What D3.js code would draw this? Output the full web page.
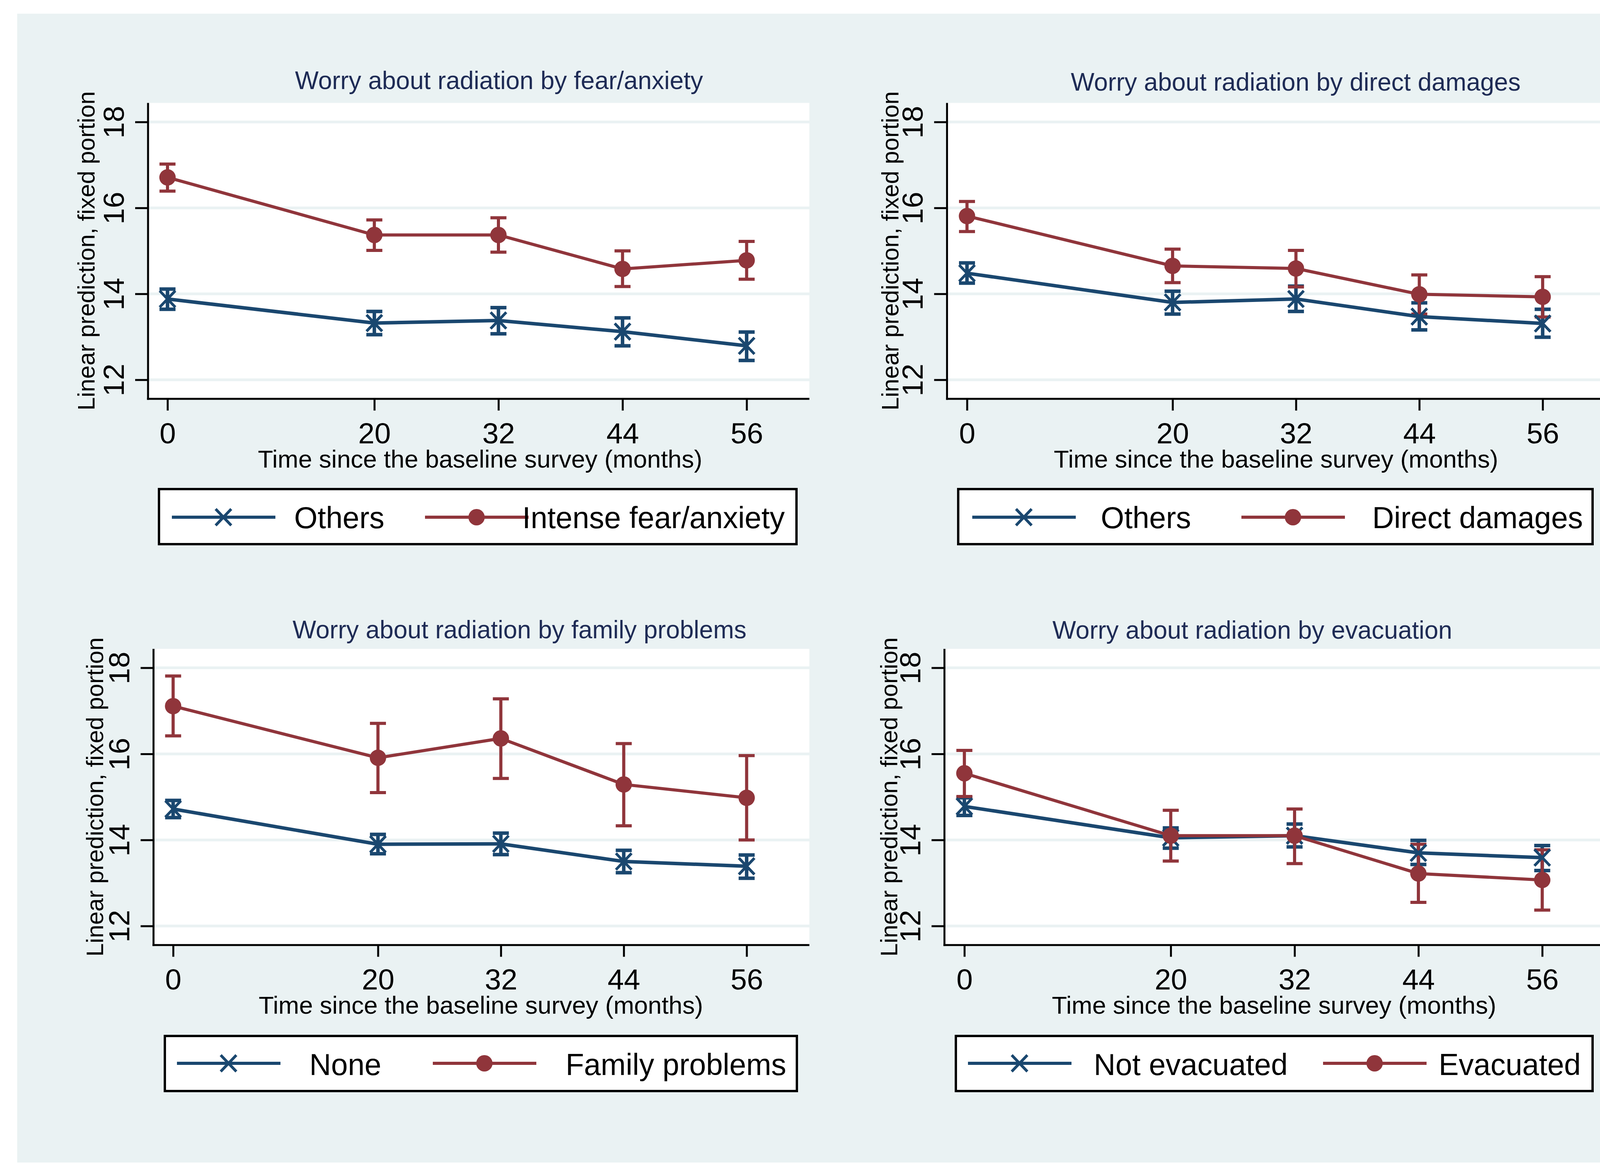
<!DOCTYPE html>
<meta charset="utf-8">
<style>
    body { margin: 0; background: #fff; }
    text { font-family: "Liberation Sans", Arial, sans-serif; }
</style>
<script src="https://d3js.org/d3.v7.min.js"></script>

<div id="chart"></div>

<script>
// months since baseline and y ticks shared by every panel
var months = [0, 20, 32, 44, 56];
var yTicks = [12, 14, 16, 18];

var titles = [
    "Worry about radiation by fear/anxiety",
    "Worry about radiation by direct damages",
    "Worry about radiation by family problems",
    "Worry about radiation by evacuation"
];
var groupLabels = [
    ["Others", "Intense fear/anxiety"],
    ["Others", "Direct damages"],
    ["None", "Family problems"],
    ["Not evacuated", "Evacuated"]
];
var yTitle = "Linear prediction, fixed portion";
var xTitle = "Time since the baseline survey (months)";

// panel 1: fear/anxiety
var fearOthers   = [13.88, 13.32, 13.38, 13.12, 12.79];
var fearOthersLo = [13.64, 13.05, 13.07, 12.79, 12.45];
var fearOthersHi = [14.11, 13.59, 13.68, 13.44, 13.11];
var fearYes      = [16.71, 15.37, 15.37, 14.58, 14.78];
var fearYesLo    = [16.39, 15.01, 14.97, 14.17, 14.34];
var fearYesHi    = [17.02, 15.72, 15.77, 15.00, 15.22];

// panel 2: direct damages
var dmgOthers   = [14.48, 13.80, 13.88, 13.47, 13.31];
var dmgOthersLo = [14.25, 13.53, 13.59, 13.16, 12.99];
var dmgOthersHi = [14.72, 14.06, 14.18, 13.79, 13.64];
var dmgYes      = [15.81, 14.65, 14.59, 13.99, 13.93];
var dmgYesLo    = [15.45, 14.26, 14.16, 13.53, 13.46];
var dmgYesHi    = [16.15, 15.04, 15.01, 14.44, 14.40];

// panel 3: family problems
var famNone   = [14.72, 13.90, 13.91, 13.50, 13.39];
var famNoneLo = [14.52, 13.68, 13.66, 13.24, 13.11];
var famNoneHi = [14.92, 14.13, 14.16, 13.76, 13.65];
var famYes    = [17.11, 15.91, 16.36, 15.29, 14.98];
var famYesLo  = [16.42, 15.10, 15.43, 14.33, 14.00];
var famYesHi  = [17.81, 16.71, 17.28, 16.24, 15.96];

// panel 4: evacuation
var evacNo   = [14.78, 14.05, 14.10, 13.70, 13.59];
var evacNoLo = [14.57, 13.81, 13.84, 13.43, 13.29];
var evacNoHi = [14.98, 14.28, 14.37, 13.99, 13.87];
var evacYes   = [15.55, 14.10, 14.10, 13.22, 13.07];
var evacYesLo = [15.01, 13.51, 13.45, 12.55, 12.37];
var evacYesHi = [16.08, 14.69, 14.72, 13.90, 13.77];

var navy = "#1a476f", maroon = "#90353b", bgc = "#eaf2f3", titleCol = "#1e2b55";

// pixel layout of each panel (plot box, where 0 and 56 months fall, where 12 and 18 fall)
var layouts = [
    {left: 379, right: 2072, top: 263.5, bottom: 1021, x0: 428.8, x56: 1911.4, y12: 972.2, y18: 312.2,
     titleX: 1277.5, titleY: 228, yTitleX: 242, xTitleX: 1229,
     leg: {x: 407, y: 1252, w: 1632, h: 141, l1: 33, t1: 346, l2: 681, t2: 930, cy: 72, by: 100}},
    {left: 2424.4, right: 4105.7, top: 263.5, bottom: 1021, x0: 2475.5, x56: 3949.2, y12: 972.2, y18: 312.2,
     titleX: 3317, titleY: 232, yTitleX: 2300, xTitleX: 3266.5,
     leg: {x: 2453, y: 1252, w: 1624, h: 141, l1: 36, t1: 365, l2: 725, t2: 1060, cy: 72, by: 100}},
    {left: 393, right: 2072, top: 1661, bottom: 2419.3, x0: 443.2, x56: 1911.4, y12: 2370.6, y18: 1709.6,
     titleX: 1330, titleY: 1633.5, yTitleX: 264, xTitleX: 1231,
     leg: {x: 422, y: 2652, w: 1618, h: 141, l1: 31, t1: 370, l2: 686, t2: 1026, cy: 70, by: 100}},
    {left: 2417.8, right: 4105.7, top: 1661, bottom: 2419.3, x0: 2468.8, x56: 3948.1, y12: 2370.6, y18: 1709.6,
     titleX: 3206, titleY: 1635, yTitleX: 2297, xTitleX: 3261.5,
     leg: {x: 2447, y: 2652, w: 1630, h: 141, l1: 31, t1: 353, l2: 940, t2: 1236, cy: 70, by: 100}}
];

var panels = [
    {lo: [fearOthersLo, fearYesLo], hi: [fearOthersHi, fearYesHi], m: [fearOthers, fearYes]},
    {lo: [dmgOthersLo, dmgYesLo], hi: [dmgOthersHi, dmgYesHi], m: [dmgOthers, dmgYes]},
    {lo: [famNoneLo, famYesLo], hi: [famNoneHi, famYesHi], m: [famNone, famYes]},
    {lo: [evacNoLo, evacYesLo], hi: [evacNoHi, evacYesHi], m: [evacNo, evacYes]}
];

var colors = [navy, maroon];
var ciWidth = [9, 8];
var lineWidth = [9, 8];

var svg = d3.select("#chart").append("svg")
    .attr("width", 4299)
    .attr("height", 2990)
    .style("display", "block");

svg.append("rect").attr("x", 44).attr("y", 35).attr("width", 4230).attr("height", 2941).attr("fill", bgc);

function drawMarker(sel, k) {
    if (k == 0) {
        sel.append("path")
            .attr("d", "M-20,-21L20,21M-20,21L20,-21")
            .attr("stroke", navy).attr("stroke-width", 7).attr("fill", "none");
    } else {
        sel.append("circle").attr("r", 21).attr("fill", maroon);
    }
}

panels.forEach(function(p, pi) {
    var L = layouts[pi];
    var g = svg.append("g");

    var x = d3.scaleLinear().domain([0, 56]).range([L.x0, L.x56]);
    var y = d3.scaleLinear().domain([12, 18]).range([L.y12, L.y18]);

    // plot region and grid
    g.append("rect").attr("x", L.left).attr("y", L.top)
        .attr("width", L.right - L.left).attr("height", L.bottom - L.top).attr("fill", "#fff");
    g.selectAll(".grid").data(yTicks).join("line")
        .attr("x1", L.left).attr("x2", L.right)
        .attr("y1", d => y(d)).attr("y2", d => y(d))
        .attr("stroke", bgc).attr("stroke-width", 7);

    // y axis
    g.append("g")
        .attr("transform", `translate(${L.left},0)`)
        .call(d3.axisLeft(y).tickValues(yTicks).tickFormat(d3.format("d")).tickSize(33).tickSizeOuter(0))
        .attr("font-family", null).attr("font-size", null)
        .call(a => a.select(".domain").remove())
        .call(a => a.selectAll("line").attr("stroke", "#000").attr("stroke-width", 5))
        .call(a => a.selectAll("text")
            .attr("transform", "rotate(-90)")
            .attr("x", 0).attr("y", -62).attr("dy", 0)
            .attr("text-anchor", "middle").attr("fill", "#000")
            .style("font-size", "75px"));

    // x axis
    g.append("g")
        .attr("transform", `translate(0,${L.bottom})`)
        .call(d3.axisBottom(x).tickValues(months).tickFormat(d3.format("d")).tickSize(30).tickSizeOuter(0))
        .attr("font-family", null).attr("font-size", null)
        .call(a => a.select(".domain").remove())
        .call(a => a.selectAll("line").attr("stroke", "#000").attr("stroke-width", 5))
        .call(a => a.selectAll("text")
            .attr("y", 114).attr("dy", 0).attr("fill", "#000")
            .style("font-size", "75px"));

    g.append("line").attr("x1", L.left).attr("x2", L.left).attr("y1", L.top).attr("y2", L.bottom + 2.5)
        .attr("stroke", "#000").attr("stroke-width", 5);
    g.append("line").attr("x1", L.left - 2.5).attr("x2", L.right).attr("y1", L.bottom).attr("y2", L.bottom)
        .attr("stroke", "#000").attr("stroke-width", 5);

    // titles
    g.append("text").attr("x", L.titleX).attr("y", L.titleY).attr("text-anchor", "middle")
        .style("font-size", "64px").attr("fill", titleCol).text(titles[pi]);
    g.append("text").attr("x", L.xTitleX).attr("y", L.bottom + 176).attr("text-anchor", "middle")
        .style("font-size", "63.5px").text(xTitle);
    g.append("text")
        .attr("transform", `translate(${L.yTitleX},${(L.top + L.bottom) / 2}) rotate(-90)`)
        .attr("text-anchor", "middle")
        .style("font-size", "61px").text(yTitle);

    // confidence intervals
    [0, 1].forEach(function(k) {
        var rows = months.map((t, i) => ({t: t, lo: p.lo[k][i], hi: p.hi[k][i]}));
        g.append("g").selectAll("path").data(rows).join("path")
            .attr("d", d => {
                var cx = x(d.t);
                return `M${cx - 20.5},${y(d.hi)}H${cx + 20.5}M${cx},${y(d.hi)}V${y(d.lo)}M${cx - 20.5},${y(d.lo)}H${cx + 20.5}`;
            })
            .attr("fill", "none").attr("stroke", colors[k]).attr("stroke-width", ciWidth[k]);
    });

    // connected estimates
    [0, 1].forEach(function(k) {
        var rows = months.map((t, i) => ({t: t, m: p.m[k][i]}));
        var line = d3.line().x(d => x(d.t)).y(d => y(d.m));
        g.append("path").datum(rows).attr("d", line)
            .attr("fill", "none").attr("stroke", colors[k]).attr("stroke-width", lineWidth[k]);
        g.append("g").selectAll("g").data(rows).join("g")
            .attr("transform", d => `translate(${x(d.t)},${y(d.m)})`)
            .each(function() { drawMarker(d3.select(this), k); });
    });

    // legend
    var lg = L.leg;
    var leg = g.append("g").attr("transform", `translate(${lg.x},${lg.y})`);
    leg.append("rect").attr("width", lg.w).attr("height", lg.h)
        .attr("fill", "#fff").attr("stroke", "#000").attr("stroke-width", 6);
    [[lg.l1, lg.t1], [lg.l2, lg.t2]].forEach(function(pos, k) {
        leg.append("line").attr("x1", pos[0]).attr("x2", pos[0] + 265)
            .attr("y1", lg.cy).attr("y2", lg.cy)
            .attr("stroke", colors[k]).attr("stroke-width", 8);
        drawMarker(leg.append("g").attr("transform", `translate(${pos[0] + 132},${lg.cy})`), k);
        leg.append("text").attr("x", pos[1]).attr("y", lg.by)
            .style("font-size", "77px").text(groupLabels[pi][k]);
    });
});
</script>
